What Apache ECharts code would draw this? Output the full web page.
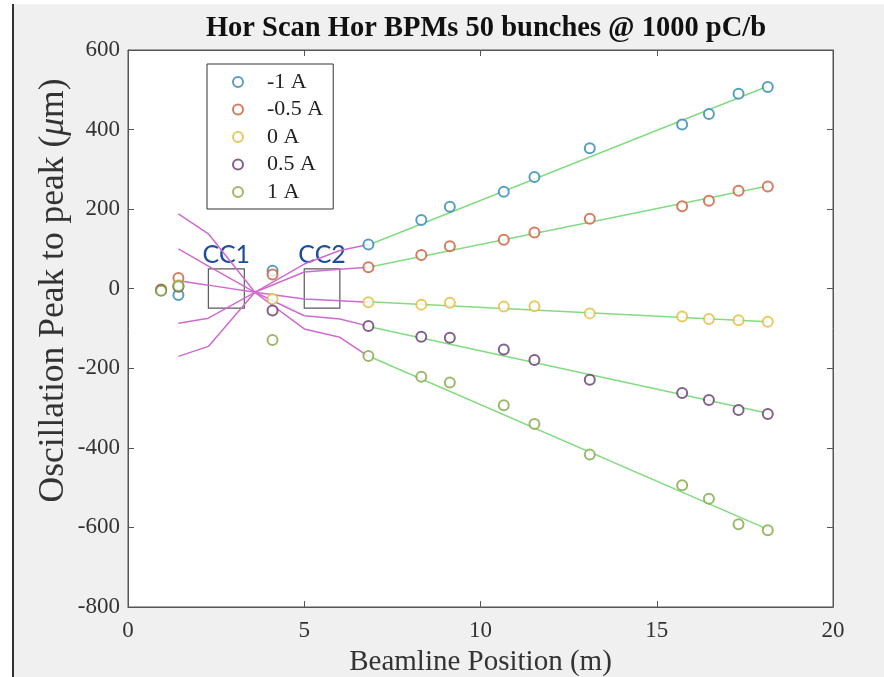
<!DOCTYPE html>
<html><head><meta charset="utf-8">
<script src="https://cdn.jsdelivr.net/npm/echarts@6/dist/echarts.min.js"></script>
<style>html,body{margin:0;padding:0;background:#fff}#c{width:884px;height:677px}</style>
</head><body><div id="c"></div>
<script>
// BPM positions (m)
const bpmX = [0.94, 1.43, 4.10, 6.82, 8.32, 9.13, 10.66, 11.53, 13.10, 15.72, 16.48, 17.32, 18.15];
const seriesNames = ['-1 A', '-0.5 A', '0 A', '0.5 A', '1 A'];
// measured oscillation peak-to-peak (um)
const valsM1  = [-3, -16, 45, 111, 173, 206, 244, 281, 353, 413, 439, 490, 507];
const valsM05 = [-2, 27, 36, 54, 85, 107, 123, 141, 176, 207, 221, 246, 257];
const vals0   = [-4, 9, -26, -34, -40, -35, -45, -44, -62, -70, -76, -79, -83];
const valsP05 = [-4, 5, -55, -94, -121, -123, -153, -179, -229, -262, -280, -305, -315];
const valsP1  = [-5, 7, -129, -169, -221, -236, -293, -340, -417, -494, -528, -592, -607];
// linear fits (green)
const fitX   = [6.82, 18.15];
const fitM1  = [110, 509];
const fitM05 = [54, 258];
const fit0   = [-33, -83];
const fitP05 = [-95, -313];
const fitP1  = [-169, -605];
// model trajectories (magenta)
const modelX   = [1.43, 2.28, 3.60, 5.00, 6.01, 6.82];
const modelM1  = [-170, -145, -9, 62, 96, 111];
const modelM05 = [-87, -74, -9, 42, 49, 54];
const model0   = [20, 9, -9, -26, -30, -34];
const modelP05 = [100, 57, -9, -68, -76, -94];
const modelP1  = [188, 138, -9, -101, -122, -170];
// crab cavities
const cavityNames = ['CC1', 'CC2'];
const cavityStart = [2.28, 5.00];
const cavityEnd   = [3.30, 6.01];
const cavityLow = -49;
const cavityHigh = 50;
// axes
const xMin = 0, xMax = 20, xStep = 5;
const yMin = -800, yMax = 600, yStep = 200;

const colors = ['#2f86b0', '#cc5b3a', '#e2bc3c', '#63386f', '#83a845'];
const measured = [valsM1, valsM05, vals0, valsP05, valsP1];
const fits = [fitM1, fitM05, fit0, fitP05, fitP1];
const models = [modelM1, modelM05, model0, modelP05, modelP1];
const serif = 'Liberation Serif';

const zip = (xs, ys) => xs.map((x, i) => [x, ys[i]]);

const series = [];
models.forEach((m, i) => series.push({
  type: 'line', name: 'model' + i, data: zip(modelX, m), symbol: 'none', silent: true,
  lineStyle: { color: '#cf6bd0', width: 1.5 }, z: 2, animation: false
}));
fits.forEach((f, i) => series.push({
  type: 'line', name: 'fit' + i, data: zip(fitX, f), symbol: 'none', silent: true,
  lineStyle: { color: '#82dc82', width: 1.5 }, z: 3, animation: false
}));
series.push({
  type: 'line', name: 'cavities', data: [], silent: true, animation: false,
  markArea: {
    silent: true,
    itemStyle: { color: 'rgba(0,0,0,0)', borderColor: '#5a5a5a', borderWidth: 1.2 },
    label: { show: true, position: 'top', distance: 1, color: '#1c4d9b', fontFamily: 'Lato', fontSize: 25 },
    data: cavityNames.map((n, i) => [
      { name: n, coord: [cavityStart[i], cavityHigh] },
      { coord: [cavityEnd[i], cavityLow] }
    ])
  }
});
measured.forEach((v, i) => series.push({
  type: 'scatter', name: seriesNames[i], data: zip(bpmX, v),
  symbol: 'emptyCircle', symbolSize: 10, z: 5, animation: false,
  itemStyle: { color: colors[i], borderColor: colors[i], borderWidth: 1.8 }
}));

const axisCommon = {
  axisLine: { show: true, onZero: false, lineStyle: { color: '#555', width: 1 } },
  axisTick: { show: true, inside: true, length: 6, lineStyle: { color: '#555' } },
  splitLine: { show: false }
};

const chart = echarts.init(document.getElementById('c'));
chart.setOption({
  backgroundColor: '#fff',
  animation: false,
  graphic: [
    { type: 'rect', shape: { x: 13, y: 4, width: 871, height: 673 }, style: { fill: '#f0f0f0' }, z: -10 },
    { type: 'line', shape: { x1: 13, y1: 4, x2: 13, y2: 677 }, style: { stroke: '#333', lineWidth: 2 }, z: -9 }
  ],
  title: {
    text: 'Hor Scan Hor BPMs 50 bunches @ 1000 pC/b',
    left: 481, top: 9, textAlign: 'center',
    textStyle: { fontFamily: serif, fontWeight: 'bold', fontSize: 28.5, color: '#111' }
  },
  legend: {
    data: seriesNames,
    orient: 'vertical', left: 207, top: 64,
    padding: [7, 10, 6, 25], itemGap: 5.5,
    itemWidth: 48, itemHeight: 10,
    backgroundColor: '#fff', borderColor: '#333', borderWidth: 1,
    icon: 'emptyCircle',
    textStyle: { fontFamily: serif, fontSize: 22, color: '#222' }
  },
  grid: { left: 128, right: 51, top: 50, bottom: 70, outerBoundsMode: 'none', containLabel: false,
    show: true, backgroundColor: '#fff', borderColor: '#555', borderWidth: 1 },
  xAxis: [
    Object.assign({}, axisCommon, {
      type: 'value', min: xMin, max: xMax, interval: xStep, position: 'bottom',
      name: 'Beamline Position (m)', nameLocation: 'middle', nameGap: 41, nameMoveOverlap: false,
      nameTextStyle: { fontFamily: serif, fontSize: 29, color: '#333' },
      axisLabel: { fontFamily: serif, fontSize: 23, color: '#333', margin: 12 }
    }),
    Object.assign({}, axisCommon, {
      type: 'value', min: xMin, max: xMax, interval: xStep, position: 'top', axisLabel: { show: false }
    })
  ],
  yAxis: [
    Object.assign({}, axisCommon, {
      type: 'value', min: yMin, max: yMax, interval: yStep, position: 'left',
      name: 'Oscillation Peak to peak ({i|μ}m)', nameLocation: 'middle', nameGap: 56, nameMoveOverlap: false,
      nameTextStyle: { fontFamily: serif, fontSize: 35.5, color: '#333', padding: [0, 0, 0, 76],
        rich: { i: { fontFamily: serif, fontSize: 35.5, fontStyle: 'italic', color: '#333' } } },
      axisLabel: { fontFamily: serif, fontSize: 23, color: '#333', margin: 8 }
    }),
    Object.assign({}, axisCommon, {
      type: 'value', min: yMin, max: yMax, interval: yStep, position: 'right', axisLabel: { show: false }
    })
  ],
  series: series
});
</script></body></html>
